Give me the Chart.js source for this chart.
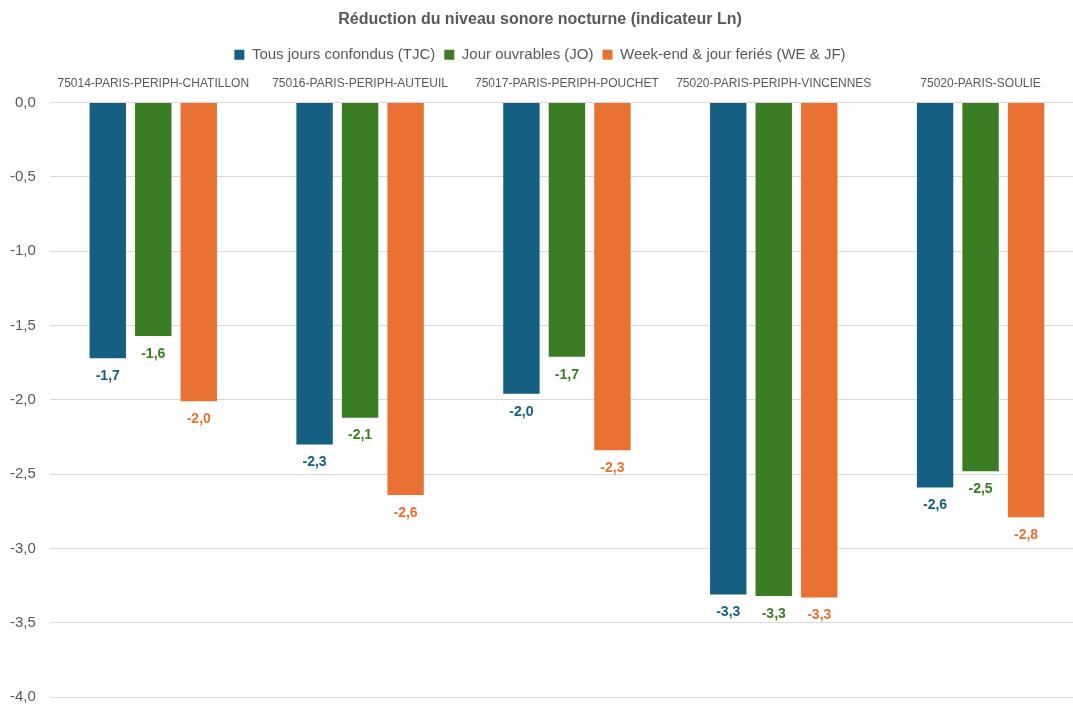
<!DOCTYPE html>
<html lang="fr">
<head>
<meta charset="utf-8">
<script src="https://cdn.jsdelivr.net/npm/chart.js@4/dist/chart.umd.min.js"></script>
<style>
  html, body { margin: 0; padding: 0; background: #fff; overflow: hidden; }
  #wrap { width: 1084px; height: 720px; position: relative; }
</style>
</head>
<body>
<div id="wrap"><canvas id="chart"></canvas></div>
<script>
const categories = [
  '75014-PARIS-PERIPH-CHATILLON',
  '75016-PARIS-PERIPH-AUTEUIL',
  '75017-PARIS-PERIPH-POUCHET',
  '75020-PARIS-PERIPH-VINCENNES',
  '75020-PARIS-SOULIE'
]
const tjc = [-1.72, -2.30, -1.96, -3.31, -2.59]
const jo = [-1.57, -2.12, -1.71, -3.32, -2.48]
const wejf = [-2.01, -2.64, -2.34, -3.33, -2.79]
const seriesNames = ['Tous jours confondus (TJC)', 'Jour ouvrables (JO)', 'Week-end & jour feriés (WE & JF)']
const seriesColors = ['#156082', '#3b7d23', '#e97132']

const fmt = v => v.toFixed(1).replace('.', ',')

// value labels under each bar end
const valueLabels = {
  id: 'valueLabels',
  afterDatasetsDraw(chart) {
    const ctx = chart.ctx
    ctx.save()
    ctx.font = 'bold 14px "Liberation Sans", Arial, sans-serif'
    ctx.textAlign = 'center'
    ctx.textBaseline = 'middle'
    chart.data.datasets.forEach((ds, i) => {
      ctx.fillStyle = ds.backgroundColor
      chart.getDatasetMeta(i).data.forEach((bar, j) => {
        ctx.fillText(fmt(ds.data[j]), bar.x, bar.y + 18)
      })
    })
    ctx.restore()
  }
}

new Chart(document.getElementById('chart').getContext('2d'), {
  type: 'bar',
  data: {
    labels: categories,
    datasets: [
      { label: seriesNames[0], data: tjc, backgroundColor: seriesColors[0] },
      { label: seriesNames[1], data: jo, backgroundColor: seriesColors[1] },
      { label: seriesNames[2], data: wejf, backgroundColor: seriesColors[2] },
    ],
  },
  options: {
    responsive: true,
    maintainAspectRatio: false,
    animation: false,
    layout: { padding: { left: -4, right: 0, top: 6, bottom: 0 } },
    datasets: {
      bar: { categoryPercentage: 0.66, barPercentage: 0.8, borderWidth: 0 }
    },
    plugins: {
      title: {
        display: true,
        text: 'Réduction du niveau sonore nocturne (indicateur Ln)',
        color: '#595959',
        font: { family: '"Liberation Sans", Arial, sans-serif', size: 16, weight: 'bold' },
        padding: { top: 4, bottom: 9 },
      },
      legend: {
        position: 'top',
        labels: {
          color: '#595959',
          boxWidth: 10,
          boxHeight: 10,
          padding: 9,
          font: { family: '"Liberation Sans", Arial, sans-serif', size: 15 },
        },
      },
      tooltip: { enabled: false },
    },
    scales: {
      x: {
        position: 'top',
        grid: { display: false },
        border: { display: false },
        ticks: {
          color: '#595959',
          font: { family: '"Liberation Sans", Arial, sans-serif', size: 12 },
          maxRotation: 0,
          autoSkip: false,
          padding: 4,
        },
      },
      y: {
        min: -4,
        max: 0,
        border: { display: false },
        grid: { color: '#d9d9d9', lineWidth: 1, drawTicks: false },
        ticks: {
          stepSize: 0.5,
          color: '#595959',
          padding: 14,
          font: { family: '"Liberation Sans", Arial, sans-serif', size: 15 },
          callback: v => fmt(v),
        },
      },
    },
  },
  plugins: [valueLabels],
})
</script>
</body>
</html>
